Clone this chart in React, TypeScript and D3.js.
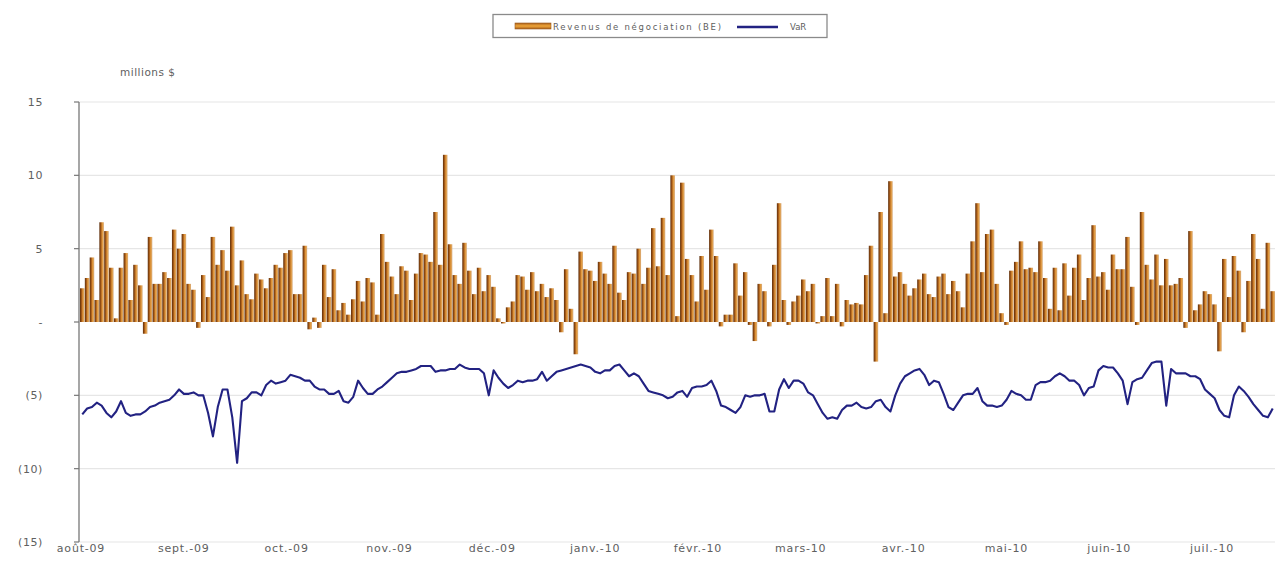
import * as d3 from 'd3';

// month labels on the category axis
const months = ['août-09', 'sept.-09', 'oct.-09', 'nov.-09', 'déc.-09', 'janv.-10', 'févr.-10', 'mars-10', 'avr.-10', 'mai-10', 'juin-10', 'juil.-10'];

const yTicks = [-15, -10, -5, 0, 5, 10, 15];

// Revenus de négociation (BE), millions $, one value per trading day
const revenueAugOct = [2.3, 3.0, 4.4, 1.5, 6.8, 6.2, 3.7, 0.25, 3.7, 4.7, 1.5, 3.9, 2.5, -0.8, 5.8, 2.6, 2.6, 3.4, 3.0, 6.3, 5.0, 6.0, 2.6, 2.2, -0.4, 3.2, 1.7, 5.8, 3.9, 4.9, 3.5, 6.5, 2.5, 4.2, 1.9, 1.55, 3.3, 2.9, 2.3, 3.0, 3.9, 3.7, 4.7, 4.9, 1.9, 1.9, 5.2, -0.5, 0.3, -0.4, 3.9, 1.7, 3.6, 0.8, 1.3, 0.5, 1.55, 2.8, 1.4, 3.0];
const revenueNovJan = [2.7, 0.5, 6.0, 4.1, 3.1, 1.9, 3.8, 3.5, 1.5, 3.3, 4.7, 4.6, 4.1, 7.5, 3.9, 11.4, 5.3, 3.2, 2.6, 5.4, 3.5, 1.9, 3.7, 2.1, 3.2, 2.4, 0.25, -0.1, 1.0, 1.4, 3.2, 3.1, 2.2, 3.4, 2.1, 2.6, 1.7, 2.3, 1.5, -0.7, 3.6, 0.9, -2.2, 4.8, 3.6, 3.5, 2.8, 4.1, 3.3, 2.6, 5.2, 2.0, 1.5, 3.4, 3.3, 5.0, 2.6, 3.7, 6.4, 3.8, 7.1, 3.2];
const revenueFebApr = [10.0, 0.4, 9.5, 4.3, 3.2, 1.4, 4.5, 2.2, 6.3, 4.5, -0.3, 0.5, 0.5, 4.0, 1.8, 3.4, -0.2, -1.3, 2.6, 2.1, -0.3, 3.9, 8.1, 1.5, -0.2, 1.4, 1.8, 2.9, 2.1, 2.6, -0.1, 0.4, 3.0, 0.4, 2.6, -0.3, 1.5, 1.2, 1.3, 1.2, 3.2, 5.2, -2.7, 7.5, 0.6, 9.6, 3.1, 3.4, 2.6, 1.8, 2.3, 2.9, 3.3, 1.9, 1.7, 3.1, 3.3, 1.9, 2.8, 2.1, 1.0, 3.3];
const revenueMayJul = [5.5, 8.1, 3.4, 6.0, 6.3, 2.6, 0.6, -0.2, 3.5, 4.1, 5.5, 3.6, 3.7, 3.4, 5.5, 3.0, 0.9, 3.7, 0.8, 4.0, 1.8, 3.7, 4.6, 1.5, 3.0, 6.6, 3.1, 3.4, 2.2, 4.6, 3.6, 3.6, 5.8, 2.4, -0.2, 7.5, 3.9, 2.9, 4.6, 2.5, 4.3, 2.5, 2.6, 3.0, -0.4, 6.2, 0.8, 1.2, 2.1, 1.9, 1.2, -2.0, 4.3, 1.7, 4.5, 3.5, -0.7, 2.8, 6.0, 4.3, 0.9, 5.4, 2.1];

// VaR, millions $, one value per trading day
const varAugOct = [-6.3, -5.9, -5.8, -5.5, -5.7, -6.2, -6.5, -6.1, -5.4, -6.2, -6.4, -6.3, -6.3, -6.1, -5.8, -5.7, -5.5, -5.4, -5.3, -5.0, -4.6, -4.9, -4.9, -4.8, -5.0, -5.0, -6.2, -7.8, -5.8, -4.6, -4.6, -6.5, -9.6, -5.4, -5.2, -4.8, -4.8, -5.0, -4.3, -4.0, -4.2, -4.1, -4.0, -3.6, -3.7, -3.8, -4.0, -4.0, -4.4, -4.6, -4.6, -4.9, -4.9, -4.7, -5.4, -5.5, -5.1, -4.0, -4.5, -4.9];
const varNovJan = [-4.9, -4.6, -4.4, -4.1, -3.8, -3.5, -3.4, -3.4, -3.3, -3.2, -3.0, -3.0, -3.0, -3.4, -3.3, -3.3, -3.2, -3.2, -2.9, -3.1, -3.2, -3.2, -3.2, -3.5, -5.0, -3.3, -3.8, -4.2, -4.5, -4.3, -4.0, -4.1, -4.0, -4.0, -3.9, -3.4, -4.0, -3.7, -3.4, -3.3, -3.2, -3.1, -3.0, -2.9, -3.0, -3.1, -3.4, -3.5, -3.3, -3.3, -3.0, -2.9, -3.3, -3.7, -3.5, -3.7, -4.2, -4.7, -4.8, -4.9, -5.0, -5.2];
const varFebApr = [-5.1, -4.8, -4.7, -5.1, -4.5, -4.4, -4.4, -4.3, -4.0, -4.7, -5.7, -5.8, -6.0, -6.2, -5.8, -5.0, -5.1, -5.0, -5.0, -4.9, -6.1, -6.1, -4.6, -3.9, -4.5, -4.0, -4.0, -4.2, -4.8, -5.0, -5.6, -6.2, -6.6, -6.5, -6.6, -6.0, -5.7, -5.7, -5.5, -5.8, -5.9, -5.8, -5.4, -5.3, -5.8, -6.1, -5.0, -4.2, -3.7, -3.5, -3.3, -3.2, -3.6, -4.3, -4.0, -4.1, -4.9, -5.8, -6.0, -5.5, -5.0, -4.9];
const varMayJul = [-4.9, -4.5, -5.4, -5.7, -5.7, -5.8, -5.7, -5.3, -4.7, -4.9, -5.0, -5.3, -5.3, -4.3, -4.1, -4.1, -4.0, -3.7, -3.5, -3.7, -4.0, -4.0, -4.3, -5.0, -4.5, -4.4, -3.3, -3.0, -3.1, -3.1, -3.5, -4.0, -5.6, -4.1, -3.9, -3.8, -3.3, -2.8, -2.7, -2.7, -5.7, -3.2, -3.5, -3.5, -3.5, -3.7, -3.7, -3.9, -4.6, -4.9, -5.2, -6.0, -6.4, -6.5, -5.0, -4.4, -4.7, -5.1, -5.6, -6.0, -6.4, -6.5, -5.9];

const revenue = [...revenueAugOct, ...revenueNovJan, ...revenueFebApr, ...revenueMayJul];
const valueAtRisk = [...varAugOct, ...varNovJan, ...varFebApr, ...varMayJul];

const W = 1275;
const H = 577;
const font = '"DejaVu Sans", Verdana, sans-serif';
const textColor = '#606060';

const fmt = (v: number) => (v === 0 ? '-' : v < 0 ? `(${-v})` : `${v}`);

export default function App() {
    const margin = {left: 79, right: 0, top: 102, bottom: 35};

    const x = d3.scaleBand<number>()
        .domain(d3.range(revenue.length))
        .range([margin.left + 1, W - margin.right])
        .paddingInner(0.06);

    const y = d3.scaleLinear()
        .domain([-15, 15])
        .range([H - margin.bottom, margin.top]);

    const monthX = d3.scalePoint<string>()
        .domain(months)
        .range([81, 1212]);

    const line = d3.line<number>()
        .x((_, i) => (x(i) ?? 0) + x.bandwidth() / 2)
        .y(d => y(d));

    return (
        <div style={{position: 'fixed', left: 0, top: 0, background: '#fff'}}>
            <svg width={W} height={H} style={{display: 'block', fontFamily: font}}>
                <defs>
                    <linearGradient id="barGrad" x1="0" x2="1" y1="0" y2="0">
                        <stop offset="0%" stopColor="#5a2c0a"/>
                        <stop offset="35%" stopColor="#a65a18"/>
                        <stop offset="65%" stopColor="#e29a3c"/>
                        <stop offset="100%" stopColor="#d8ad80"/>
                    </linearGradient>
                    <linearGradient id="legGrad" x1="0" x2="0" y1="0" y2="1">
                        <stop offset="0%" stopColor="#a8601c"/>
                        <stop offset="50%" stopColor="#f0a638"/>
                        <stop offset="100%" stopColor="#a8601c"/>
                    </linearGradient>
                </defs>

                {/* grid */}
                {yTicks.filter(t => t !== 0).map(t => (
                    <line key={t} x1={margin.left} x2={W} y1={y(t)} y2={y(t)} stroke="#e6e6e6" strokeWidth={1.2}/>
                ))}

                {/* bars */}
                {revenue.map((v, i) => (
                    <rect key={i}
                          x={x(i)}
                          width={x.bandwidth()}
                          y={Math.min(y(v), y(0))}
                          height={Math.abs(y(v) - y(0))}
                          fill="url(#barGrad)"/>
                ))}

                {/* VaR */}
                <path d={line(valueAtRisk) ?? ''} fill="none" stroke="#222282" strokeWidth={2.1} strokeLinejoin="round"/>

                {/* y axis */}
                <line x1={margin.left} x2={margin.left} y1={y(15)} y2={y(-15)} stroke="#777" strokeWidth={1.3}/>
                {yTicks.map(t => (
                    <g key={t}>
                        <line x1={margin.left - 5} x2={margin.left} y1={y(t)} y2={y(t)} stroke="#777" strokeWidth={1.2}/>
                        <text x={43} y={y(t)} dy="0.35em" textAnchor="end" fontSize={11} fill={textColor} letterSpacing={0.6}>{fmt(t)}</text>
                    </g>
                ))}

                {/* month labels */}
                {months.map(m => (
                    <text key={m} x={monthX(m)} y={552} textAnchor="middle" fontSize={11} fill={textColor} letterSpacing={0.8}>{m}</text>
                ))}

                <text x={120} y={76} fontSize={10.5} fill={textColor} letterSpacing={0.5}>millions $</text>

                {/* legend */}
                <rect x={493} y={14.5} width={334} height={23} fill="#fff" stroke="#8a8a8a" strokeWidth={1.3}/>
                <rect x={515} y={23} width={36} height={6} fill="url(#legGrad)" stroke="#9a5a20" strokeWidth={0.6}/>
                <text x={553} y={29.5} fontSize={8.5} fill={textColor} textLength={168}>Revenus de négociation (BE)</text>
                <line x1={737} x2={778} y1={27} y2={27} stroke="#222282" strokeWidth={2.4}/>
                <text x={790} y={30} fontSize={8.5} fill={textColor}>VaR</text>
            </svg>
        </div>
    );
}
